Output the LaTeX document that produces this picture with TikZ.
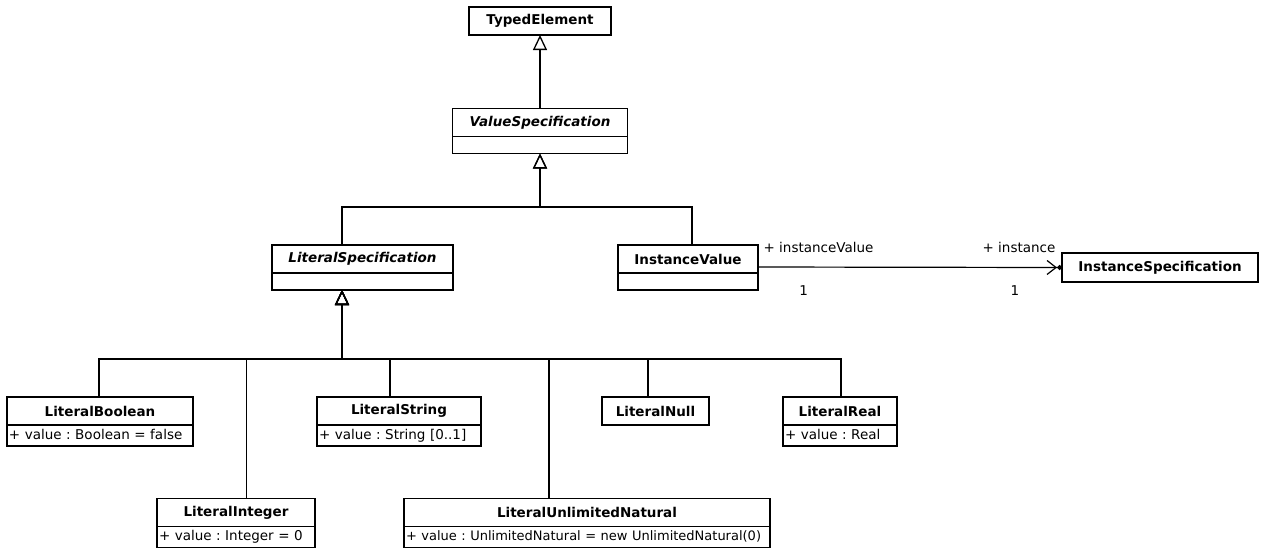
\documentclass[tikz,border=0pt]{standalone}
\usepackage{fontspec}
\setmainfont{DejaVu Sans}
\usepackage{tikz}
\usetikzlibrary{positioning,arrows.meta}
\frenchspacing

\newcommand{\umlfont}{\fontsize{13.5}{16}\selectfont}
\tikzset{
  cls/.style={draw, line width=1.3pt, minimum height=28pt, inner sep=0pt, outer sep=0pt, font=\umlfont\bfseries},
  abs/.style={cls, font=\umlfont\bfseries\itshape},
  attr/.style={draw, line width=1.3pt, minimum height=#1, inner xsep=2pt, inner ysep=0pt, outer sep=0pt,
    align=left, text height=10pt, text depth=3pt, font=\umlfont},
  gen/.style={draw, line width=1.3pt, -{Triangle[open, width=14pt, length=15pt]}},
  assoc/.style={draw, line width=1.2pt, -{Straight Barb[length=9pt, width=14pt] Circle[length=5pt]}},
  lbl/.style={inner sep=0pt, font=\umlfont}
}

\begin{document}
\begin{tikzpicture}[x=1pt, y=-1pt]
\useasboundingbox (0,0) rectangle (1262,550);
\path (540,21) node[cls, minimum width=142pt] (tel) {TypedElement}
		(540,122.5) node[abs, minimum width=175pt] (vs) {ValueSpecification}
		(362.5,259) node[abs, minimum width=181pt] (lspec) {LiteralSpecification}
		(688,259) node[cls, minimum width=140pt] (ival) {InstanceValue}
		(1160,267.5) node[cls, minimum width=196pt, minimum height=29pt] (ispec) {InstanceSpecification}
		(100,411) node[cls, minimum width=186pt] (lbool) {LiteralBoolean}
		(399,411) node[cls, minimum width=164pt] (lstr) {LiteralString}
		(655.5,411) node[cls, minimum width=107pt] (lnull) {LiteralNull}
		(840,411) node[cls, minimum width=114pt] (lreal) {LiteralReal}
		(236,512.5) node[cls, minimum width=158pt] (lint) {LiteralInteger}
		(587,512.5) node[cls, minimum width=366pt] (lun) {LiteralUnlimitedNatural}
		;
% compartments
\node[attr=17pt, minimum width=175pt, below=0pt of vs] (vsa) {};
\node[attr=17pt, minimum width=181pt, below=0pt of lspec] (lspeca) {};
\node[attr=17pt, minimum width=140pt, below=0pt of ival] (ivala) {};
\node[attr=21pt, text width=182pt, below=0pt of lbool] (lboola) {\mbox{+ value : Boolean = false}};
\node[attr=21pt, text width=160pt, below=0pt of lstr] (lstra) {\mbox{+ value : String [0..1]}};
\node[attr=21pt, text width=110pt, below=0pt of lreal] (lreala) {\mbox{+ value : Real}};
\node[attr=21pt, text width=154pt, below=0pt of lint] (linta) {\mbox{+ value : Integer = 0}};
\node[attr=21pt, text width=362pt, below=0pt of lun] (luna) {\fontsize{13}{16}\selectfont\mbox{+ value : UnlimitedNatural = new UnlimitedNatural(0)}};

\coordinate (vbar) at (540,207);
\coordinate (lbar) at (342,359);

\draw [gen] (node cs:name=vs,anchor=north) -- (node cs:name=tel,anchor=south);
\draw [gen] ([xshift=-20.5pt]lspec.north) |- (vbar) -- (vbar |- vsa.south);
\draw [gen] ([xshift=4pt]ival.north) |- (vbar) -- (vbar |- vsa.south);
\draw [gen] ([xshift=-1pt]lbool.north) |- (lbar) -- (lbar |- lspeca.south);
\draw [gen, line width=0.8pt] ([xshift=10pt]lint.north) |- (lbar) -- (lbar |- lspeca.south);
\draw [gen] ([xshift=-9pt]lstr.north) |- (lbar) -- (lbar |- lspeca.south);
\draw [gen] ([xshift=-38pt]lun.north) |- (lbar) -- (lbar |- lspeca.south);
\draw [gen] ([xshift=-7.5pt]lnull.north) |- (lbar) -- (lbar |- lspeca.south);
\draw [gen] ([xshift=1pt]lreal.north) |- (lbar) -- (lbar |- lspeca.south);

\draw [assoc] ([yshift=-8pt]ival.east) -- (ispec.west)
	node[lbl, pos=0, anchor=base west, xshift=5pt, yshift=15pt] {+ instanceValue}
	node[lbl, pos=1, anchor=base east, xshift=-6pt, yshift=15pt] {+ instance}
	node[lbl, pos=0.15, anchor=base, yshift=-28pt] {1}
	node[lbl, pos=0.845, anchor=base, yshift=-28pt] {1};
\end{tikzpicture}
\end{document}
